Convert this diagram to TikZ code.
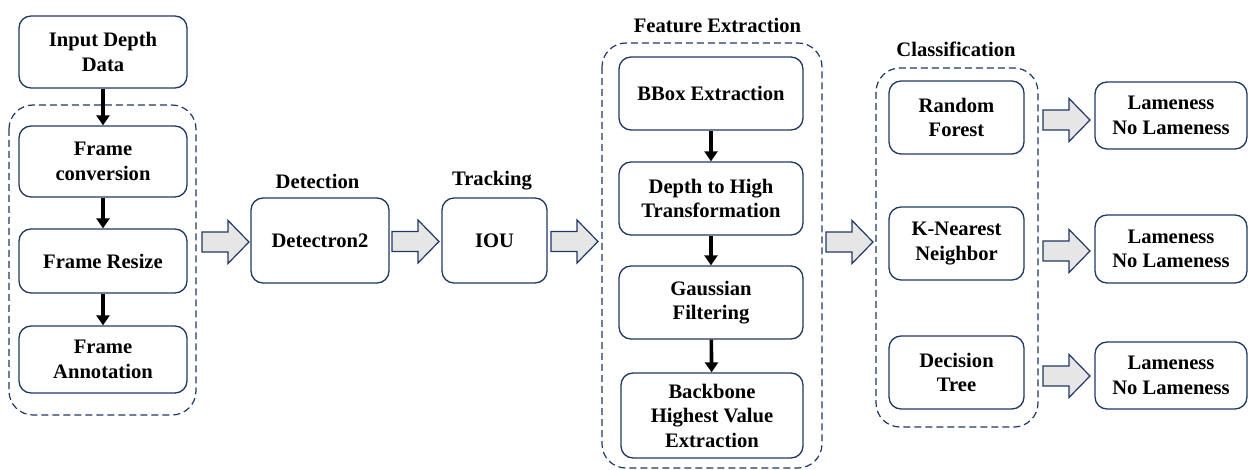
\documentclass[tikz,border=0pt]{standalone}
\usepackage{fontspec}
\setmainfont{Liberation Serif}
\usetikzlibrary{arrows.meta}
\definecolor{navy}{HTML}{203864}
\definecolor{fagray}{HTML}{E6E6E6}
\tikzset{
  box/.style={draw=navy, line width=1.3pt, rounded corners=12pt, fill=white, align=center,
    font=\fontsize{20.6}{24.5}\selectfont\bfseries, inner sep=0pt},
  grp/.style={draw=navy, line width=1.2pt, dash pattern=on 7pt off 4pt, rounded corners=24pt},
  lbl/.style={font=\fontsize{20.6}{24.5}\selectfont\bfseries, inner sep=0pt},
  flow/.style={line width=3.6pt, -{Triangle[width=13pt,length=10pt]}},
  fat/.pic={\draw[navy, line width=1.2pt, fill=fagray, line join=miter]
     (0,-10) -- (26,-10) -- (26,-21.5) -- (47,0) -- (26,21.5) -- (26,10) -- (0,10) -- cycle;}
}
\begin{document}
\begin{tikzpicture}[x=1pt,y=-1pt]
\useasboundingbox (0,0) rectangle (1248,470);
% groups
\draw[grp] (9,105) rectangle (196,415);
\draw[grp] (602,43) rectangle (822,468);
\draw[grp] (876,68) rectangle (1038,427);
% labels
\node[lbl] (labdet) at (317.5,181) {Detection};
\node[lbl] (labtrk) at (492,181) {Tracking};
\node[lbl] (labfe) at (717.5,25) {Feature Extraction};
\node[lbl] (labcl) at (956,49) {Classification};
% left column
\node[box, minimum width=168pt, minimum height=72pt] (in) at (103,52) {Input Depth\\Data};
\node[box, minimum width=168pt, minimum height=71pt] (fc) at (103,161.5) {Frame\\conversion};
\node[box, minimum width=168pt, minimum height=64pt] (fr) at (103,261) {Frame Resize};
\node[box, minimum width=168pt, minimum height=67pt] (fa) at (103,359.5) {Frame\\Annotation};
% detection / tracking
\node[box, minimum width=138pt, minimum height=85pt] (det) at (320,240.5) {Detectron2};
\node[box, minimum width=105pt, minimum height=85pt] (iou) at (494.5,240.5) {IOU};
% feature extraction
\node[box, minimum width=184pt, minimum height=73pt] (bbox) at (711,93.5) {BBox Extraction};
\node[box, minimum width=184pt, minimum height=73pt] (dth) at (711,198.5) {Depth to High\\Transformation};
\node[box, minimum width=184pt, minimum height=73pt] (gau) at (711,302.5) {Gaussian\\Filtering};
\node[box, minimum width=182pt, minimum height=85pt] (bb) at (712,415.5) {Backbone\\Highest Value\\Extraction};
% classification
\node[box, minimum width=135pt, minimum height=73pt] (rf) at (956.5,117.5) {Random\\Forest};
\node[box, minimum width=135pt, minimum height=73pt] (knn) at (956.5,243.5) {K-Nearest\\Neighbor};
\node[box, minimum width=135pt, minimum height=73pt] (dt) at (956.5,372.5) {Decision\\Tree};
% outputs
\node[box, minimum width=152pt, minimum height=67pt] (l1) at (1171,115.5) {Lameness\\No Lameness};
\node[box, minimum width=152pt, minimum height=68pt] (l2) at (1171,249) {Lameness\\No Lameness};
\node[box, minimum width=152pt, minimum height=67pt] (l3) at (1171,375.5) {Lameness\\No Lameness};
% thin flow arrows
\draw[flow] (in) -- (fc);
\draw[flow] (fc) -- (fr);
\draw[flow] (fr) -- (fa);
\draw[flow] (bbox) -- (dth);
\draw[flow] (dth) -- (gau);
\draw[flow] (gau) -- (bb);
% block arrows
\pic at (202,242) {fat};
\pic at (392,241.5) {fat};
\pic at (551,241.5) {fat};
\pic at (826,242) {fat};
\pic at (1043,120) {fat};
\pic at (1043,251) {fat};
\pic at (1043,376) {fat};
\end{tikzpicture}
\end{document}
